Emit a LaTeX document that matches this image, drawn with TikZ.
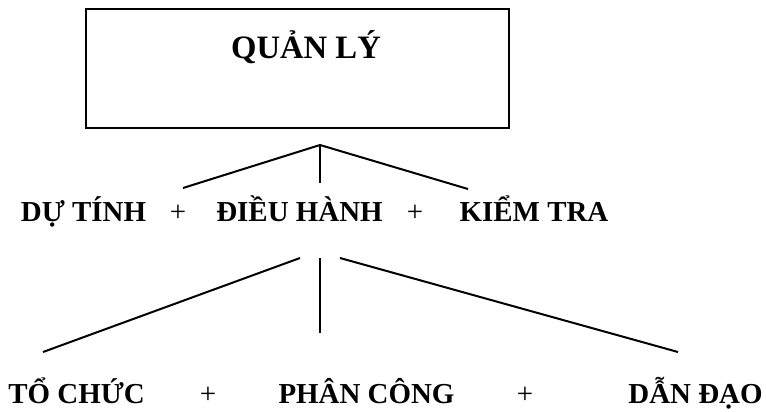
\documentclass[tikz,border=0pt]{standalone}
\usepackage{fontspec}
\setmainfont{Liberation Serif}

\begin{document}
\begin{tikzpicture}[
    x=0.75pt, y=-0.75pt,
    every node/.style={inner sep=0pt},
    topbox/.style={
        rectangle,
        draw=black,
        line width=1.6pt,
        minimum width=317pt,
        minimum height=89pt
    },
    titletext/.style={
        font=\fontsize{24.5}{30}\selectfont\bfseries,
        anchor=base
    },
    term/.style={
        font=\fontsize{21.7}{26}\selectfont\bfseries,
        anchor=base
    },
    plus/.style={
        font=\fontsize{21.7}{26}\selectfont,
        anchor=base
    },
    branch/.style={
        line width=1.5pt,
        draw=black
    }
]

\useasboundingbox (0,0) rectangle (766,411);

% Top box
\node[topbox] (quanly) at (297.5,68.5) {};
\node[titletext] (quanlytext) at (306,58.5) {QUẢN LÝ};

% Nodes - second row
\node[term] (dutinh) at (83.5,221) {DỰ TÍNH};
\node[plus] (plusa) at (178,221) {+};
\node[term] (dieuhanh) at (299.5,221) {ĐIỀU HÀNH};
\node[plus] (plusb) at (415,221) {+};
\node[term] (kiemtra) at (534,221) {KIỂM TRA};

% Nodes - third row
\node[term] (tochuc) at (76.5,403.5) {TỔ CHỨC};
\node[plus] (plusc) at (208,403.5) {+};
\node[term] (phancong) at (366.5,403.5) {PHÂN CÔNG};
\node[plus] (plusd) at (525,403.5) {+};
\node[term] (dandao) at (695.5,403.5) {DẪN ĐẠO};

% Branch ends
\coordinate (forka) at (320,145);
\coordinate (dutinh-in) at (183,188);
\coordinate (dieuhanh-in) at (320,183);
\coordinate (kiemtra-in) at (468,189);

\coordinate (dieuhanh-l) at (300,258);
\coordinate (dieuhanh-m) at (320,258);
\coordinate (dieuhanh-r) at (340,258);
\coordinate (tochuc-in) at (43,352);
\coordinate (phancong-in) at (320,333);
\coordinate (dandao-in) at (678,352);

% Branches - quan ly
\draw[branch] (forka) -- (dutinh-in);
\draw[branch] (forka) -- (dieuhanh-in);
\draw[branch] (forka) -- (kiemtra-in);

% Branches - dieu hanh
\draw[branch] (dieuhanh-l) -- (tochuc-in);
\draw[branch] (dieuhanh-m) -- (phancong-in);
\draw[branch] (dieuhanh-r) -- (dandao-in);

\end{tikzpicture}
\end{document}
